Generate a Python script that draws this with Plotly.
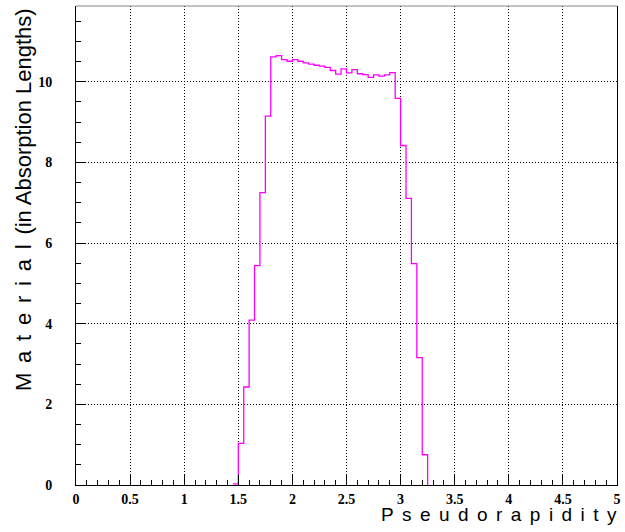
import plotly.graph_objects as go

# Bin left edges (pseudorapidity) and material per bin (absorption lengths)
bin_left = [1.45, 1.50, 1.55, 1.60, 1.65, 1.70, 1.75, 1.80, 1.85, 1.90,
            1.95, 2.00, 2.05, 2.10, 2.15, 2.20, 2.25, 2.30, 2.35, 2.40,
            2.45, 2.50, 2.55, 2.60, 2.65, 2.70, 2.75, 2.80, 2.85, 2.90,
            2.95, 3.00, 3.05, 3.10, 3.15, 3.20]
last_edge = 3.25
material = [0.03, 1.03, 2.43, 4.09, 5.44, 7.25, 9.15, 10.62, 10.65, 10.55,
            10.51, 10.55, 10.51, 10.47, 10.44, 10.41, 10.39, 10.36, 10.28, 10.19,
            10.32, 10.22, 10.30, 10.20, 10.18, 10.11, 10.17, 10.14, 10.17, 10.23,
            9.59, 8.42, 7.11, 5.49, 3.16, 0.75]

x_tickvals = [0, 0.5, 1, 1.5, 2, 2.5, 3, 3.5, 4, 4.5, 5]
x_ticktext = ["0", "0.5", "1", "1.5", "2", "2.5", "3", "3.5", "4", "4.5", "5"]
y_tickvals = [0, 2, 4, 6, 8, 10]
y_ticktext = ["0", "2", "4", "6", "8", "10"]

xs = bin_left + [last_edge]
ys = material + [0]

fig = go.Figure()
fig.add_trace(go.Scatter(x=xs, y=ys, mode="lines", line_shape="hv",
                         line=dict(color="#ff00ff", width=1.3),
                         showlegend=False, hoverinfo="skip"))

tickfont = dict(family="Liberation Serif", size=14, color="black", weight="bold")
fig.update_xaxes(range=[0, 5], tickvals=x_tickvals, ticktext=x_ticktext,
                 ticks="inside", ticklen=10, tickcolor="black", tickwidth=1,
                 showline=True, linecolor="black", linewidth=1, mirror=False,
                 showgrid=True, gridcolor="black", gridwidth=1, griddash="1px,2px",
                 zeroline=False, tickfont=tickfont, ticklabelstandoff=1,
                 minor=dict(dtick=0.1, ticks="inside", ticklen=5, tickcolor="black",
                            tickwidth=1, showgrid=False))
fig.update_yaxes(range=[0, 11.88], tickvals=y_tickvals, ticktext=y_ticktext,
                 ticks="inside", ticklen=9, tickcolor="black", tickwidth=1,
                 showline=True, linecolor="black", linewidth=1, mirror=True,
                 showgrid=True, gridcolor="black", gridwidth=1, griddash="1px,2px",
                 zeroline=False, tickfont=tickfont, ticklabelstandoff=20,
                 minor=dict(dtick=0.5, ticks="inside", ticklen=5, tickcolor="black",
                            tickwidth=1, showgrid=False))

sp = "\u00a0\u2006"
xtitle = sp.join("Pseudorapidity")
ytitle = sp.join("Material") + sp + "(in Absorption Lengths)"

fig.add_annotation(text=xtitle, xref="paper", yref="paper", x=1.003, y=-0.036,
                   xanchor="right", yanchor="top", showarrow=False,
                   font=dict(family="Liberation Sans", size=19, color="black"))
fig.add_annotation(text=ytitle, xref="paper", yref="paper", x=-0.097, y=0.596,
                   xanchor="center", yanchor="middle", textangle=-90, showarrow=False,
                   font=dict(family="Liberation Sans", size=22, color="black"))

fig.add_shape(type="line", xref="paper", yref="paper", x0=0, x1=1, y0=1, y1=1,
              line=dict(color="#888888", width=1))

fig.update_layout(width=625, height=532, margin=dict(l=76, r=4, t=6, b=47),
                  plot_bgcolor="white", paper_bgcolor="white")

fig.write_html("out.html", config={"displayModeBar": False},
               post_script="document.body.style.margin='0';document.body.style.padding='0';")
